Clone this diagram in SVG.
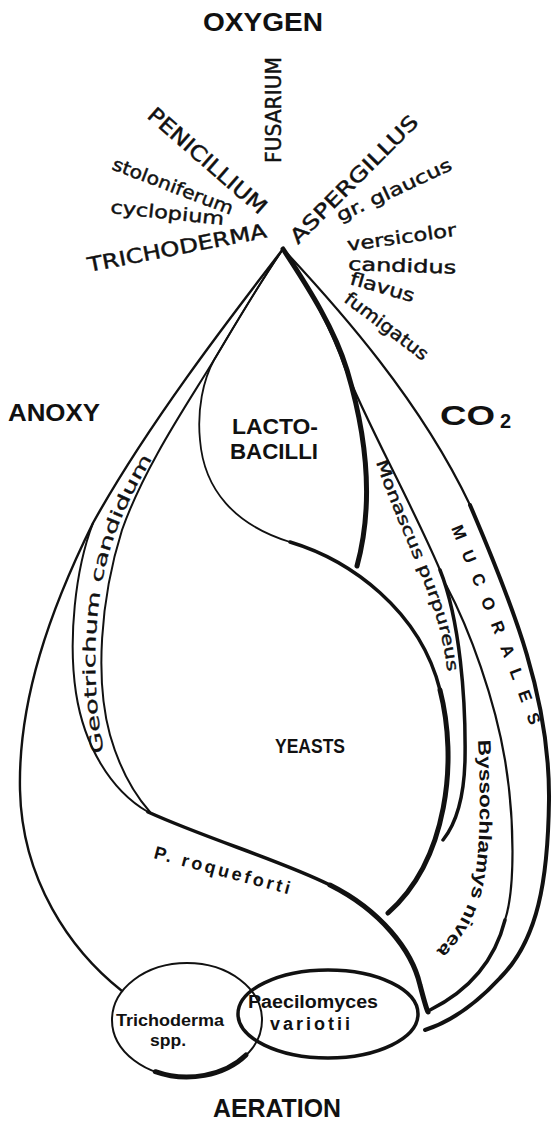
<svg xmlns="http://www.w3.org/2000/svg" width="554" height="1135" viewBox="0 0 554 1135">
<defs>
<style>
.ln{fill:none;stroke:#111;stroke-linecap:round;stroke-linejoin:round}
.b{font-family:"Liberation Sans",Arial,sans-serif;font-weight:bold;fill:#111}
.g{font-family:"DejaVu Sans","Liberation Sans",sans-serif;fill:#111;stroke:#111;stroke-width:0.45}
</style>
<path id="geoP" d="M104,752 C93,700 91,620 107,560 C119,515 141,475 166,437"/>
<path id="monP" d="M376,462 C395,520 425,575 440,630 C447,660 450,690 451,705"/>
<path id="mucP" d="M451,528 C474,585 503,650 538,748"/>
<path id="byP" d="M478,740 C481,800 481,860 471,895 C461,925 445,945 423,962"/>
</defs>
<rect width="554" height="1135" fill="#fff"/>
<g id="connectors">
<path class="ln" stroke-width="2.4" d="M283,249 C240,305 150,420 93,523 C50,610 18,700 20,790 C22,880 70,950 122,991"/>
<path class="ln" stroke-width="2" d="M93,523 C75,570 68,640 76,693 C84,745 110,790 148,812"/>
<path class="ln" stroke-width="2" d="M283,249 C255,290 232,330 214,360 C190,400 145,465 122,530 C100,600 95,680 110,735 C120,770 135,795 150,812"/>
<path class="ln" stroke-width="1.8" d="M283,249 C255,290 232,330 214,360 C203,380 197,410 200,440 C204,490 235,525 290,542"/>
<path class="ln" stroke-width="3.5" d="M290,542 C350,560 420,610 440,690"/>
<path class="ln" stroke-width="5" d="M440,690 C458,760 448,860 388,913"/>
<path class="ln" stroke-width="5" d="M283,249 C310,290 335,330 347,370 C365,430 375,500 357,566"/>
<path class="ln" stroke-width="2.2" d="M283,249 C305,280 330,325 345,368 C365,420 410,500 440,570"/>
<path class="ln" stroke-width="3.5" d="M440,570 C460,620 466,700 465,760 C464,800 455,825 443,840"/>
<path class="ln" stroke-width="2.2" d="M446,585 C470,630 495,700 505,760 C515,820 515,890 505,920"/>
<path class="ln" stroke-width="3.5" d="M505,920 C495,960 470,990 430,1010"/>
<path class="ln" stroke-width="2.2" d="M283,249 C340,310 420,400 470,505"/>
<path class="ln" stroke-width="4" d="M470,505 C515,610 550,700 549,800 C548,880 538,940 500,978 C475,1005 450,1022 425,1030"/>
<path class="ln" stroke-width="3.5" d="M148,812 C210,840 280,860 330,885"/>
<path class="ln" stroke-width="5" d="M330,885 C380,910 412,950 420,985 C424,1000 426,1008 428,1012"/>
</g>
<g id="trichoderma-spp">
<ellipse class="ln" cx="187" cy="1020" rx="75" ry="57" stroke-width="2"/>
<path class="ln" stroke-width="5" d="M155.3,1071.7 A75,57 0 0 0 246,1055"/>
<text class="b" x="170" y="1026" font-size="17" text-anchor="middle" textLength="108" lengthAdjust="spacingAndGlyphs">Trichoderma</text>
<text class="b" x="168" y="1046" font-size="17" text-anchor="middle" textLength="36" lengthAdjust="spacingAndGlyphs">spp.</text>
</g>
<g id="paecilomyces-variotii">
<ellipse class="ln" cx="328" cy="1014" rx="90" ry="44" fill="#fff" stroke-width="3.5"/>
<text class="b" x="313" y="1008" font-size="18" text-anchor="middle" textLength="130" lengthAdjust="spacingAndGlyphs">Paecilomyces</text>
<text class="b" x="310" y="1030" font-size="18" text-anchor="middle" textLength="80" lengthAdjust="spacing">variotii</text>
</g>
<g id="oxygen"><text class="b" x="263" y="31" font-size="25" text-anchor="middle" textLength="120" lengthAdjust="spacingAndGlyphs">OXYGEN</text></g>
<g id="anoxy"><text class="b" x="8" y="421" font-size="24" textLength="92" lengthAdjust="spacingAndGlyphs">ANOXY</text></g>
<g id="co2"><text class="b" x="440" y="425" font-size="27" textLength="55" lengthAdjust="spacingAndGlyphs">CO</text><text class="b" x="500" y="428" font-size="20">2</text></g>
<g id="aeration"><text class="b" x="277" y="1117" font-size="25" text-anchor="middle" textLength="128" lengthAdjust="spacingAndGlyphs">AERATION</text></g>
<g id="fusarium"><text class="g" transform="translate(281,163) rotate(-90)" font-size="22" textLength="106" lengthAdjust="spacingAndGlyphs">FUSARIUM</text></g>
<g id="penicillium">
<text class="g" transform="translate(146,117) rotate(41)" font-size="21" textLength="150" lengthAdjust="spacingAndGlyphs">PENICILLIUM</text>
<text class="g" transform="translate(111,169) rotate(21)" font-size="18" textLength="128" lengthAdjust="spacingAndGlyphs">stoloniferum</text>
<text class="g" transform="translate(110,213) rotate(6)" font-size="18" textLength="114" lengthAdjust="spacingAndGlyphs">cyclopium</text>
</g>
<g id="trichoderma"><text class="g" transform="translate(89,272) rotate(-11)" font-size="20" textLength="182" lengthAdjust="spacingAndGlyphs">TRICHODERMA</text></g>
<g id="aspergillus">
<text class="g" transform="translate(298,245) rotate(-45)" font-size="20" textLength="172" lengthAdjust="spacingAndGlyphs">ASPERGILLUS</text>
<text class="g" transform="translate(340,222) rotate(-25)" font-size="18" textLength="125" lengthAdjust="spacingAndGlyphs">gr. glaucus</text>
<text class="g" transform="translate(348,251) rotate(-8)" font-size="18" textLength="110" lengthAdjust="spacingAndGlyphs">versicolor</text>
<text class="g" transform="translate(348,270) rotate(2)" font-size="18" textLength="108" lengthAdjust="spacingAndGlyphs">candidus</text>
<text class="g" transform="translate(349,284) rotate(16)" font-size="18" textLength="66" lengthAdjust="spacingAndGlyphs">flavus</text>
<text class="g" transform="translate(343,301) rotate(37)" font-size="18" textLength="100" lengthAdjust="spacingAndGlyphs">fumigatus</text>
</g>
<g id="lactobacilli">
<text class="b" x="275" y="434" font-size="22" text-anchor="middle" textLength="86" lengthAdjust="spacingAndGlyphs">LACTO-</text>
<text class="b" x="274" y="459" font-size="22" text-anchor="middle" textLength="88" lengthAdjust="spacingAndGlyphs">BACILLI</text>
</g>
<g id="yeasts"><text class="b" x="310" y="753" font-size="20" text-anchor="middle" textLength="70" lengthAdjust="spacingAndGlyphs">YEASTS</text></g>
<g id="geotrichum"><text class="g" font-size="17" style="stroke-width:0.3"><textPath href="#geoP" textLength="305" lengthAdjust="spacingAndGlyphs">Geotrichum candidum</textPath></text></g>
<g id="monascus"><text class="g" font-size="16"><textPath href="#monP" textLength="222" lengthAdjust="spacingAndGlyphs">Monascus purpureus</textPath></text></g>
<g id="mucorales"><text class="b" font-size="17" letter-spacing="13"><textPath href="#mucP">MUCORALES</textPath></text></g>
<g id="byssochlamys"><text class="b" font-size="18"><textPath href="#byP" textLength="222" lengthAdjust="spacingAndGlyphs">Byssochlamys nivea</textPath></text></g>
<g id="p-roqueforti"><text class="b" transform="translate(153,858) rotate(15)" font-size="18" textLength="140" lengthAdjust="spacing">P. roqueforti</text></g>
</svg>
